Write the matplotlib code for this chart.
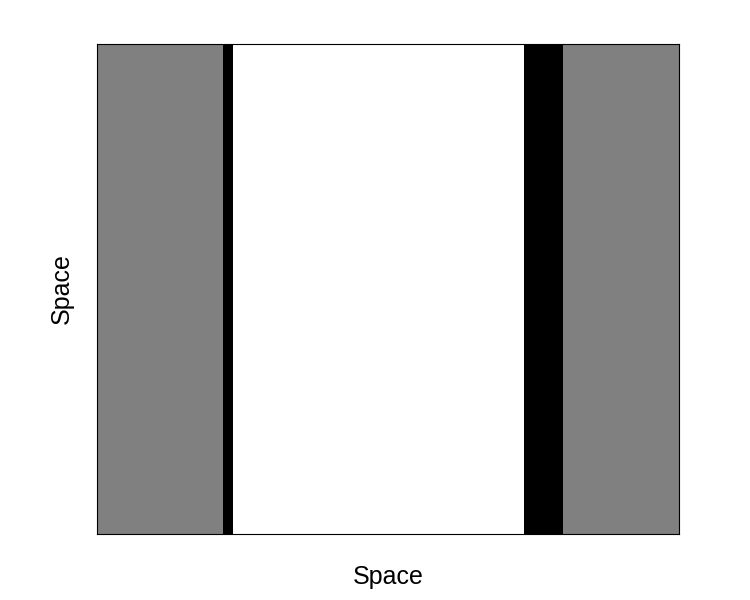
import numpy as np
import matplotlib
matplotlib.use("Agg")
import matplotlib.pyplot as plt
from matplotlib.colors import ListedColormap

plt.rcParams['font.family'] = ['Liberation Sans', 'DejaVu Sans']

# cell states along space: 0 = white, 1 = gray, 2 = black
STATES = [1] * 13 + [2] * 1 + [0] * 30 + [2] * 4 + [1] * 12
state_colors = ['white', 'gray', 'black']

field = np.array([STATES])

fig = plt.figure(figsize=(7.5, 6), dpi=100)
ax = fig.add_axes([97 / 750, 1 - 534 / 600, 582 / 750, 490 / 600])
ax.imshow(field, cmap=ListedColormap(state_colors), vmin=-0.5, vmax=2.5,
          aspect='auto', interpolation='nearest')
ax.set_xticks([])
ax.set_yticks([])
ax.set_xlabel("Space", fontsize=18, labelpad=22.5)
ax.set_ylabel("Space", fontsize=18, labelpad=17)
for s in ax.spines.values():
    s.set_linewidth(0.8)

plt.savefig("out.png", dpi=100)
